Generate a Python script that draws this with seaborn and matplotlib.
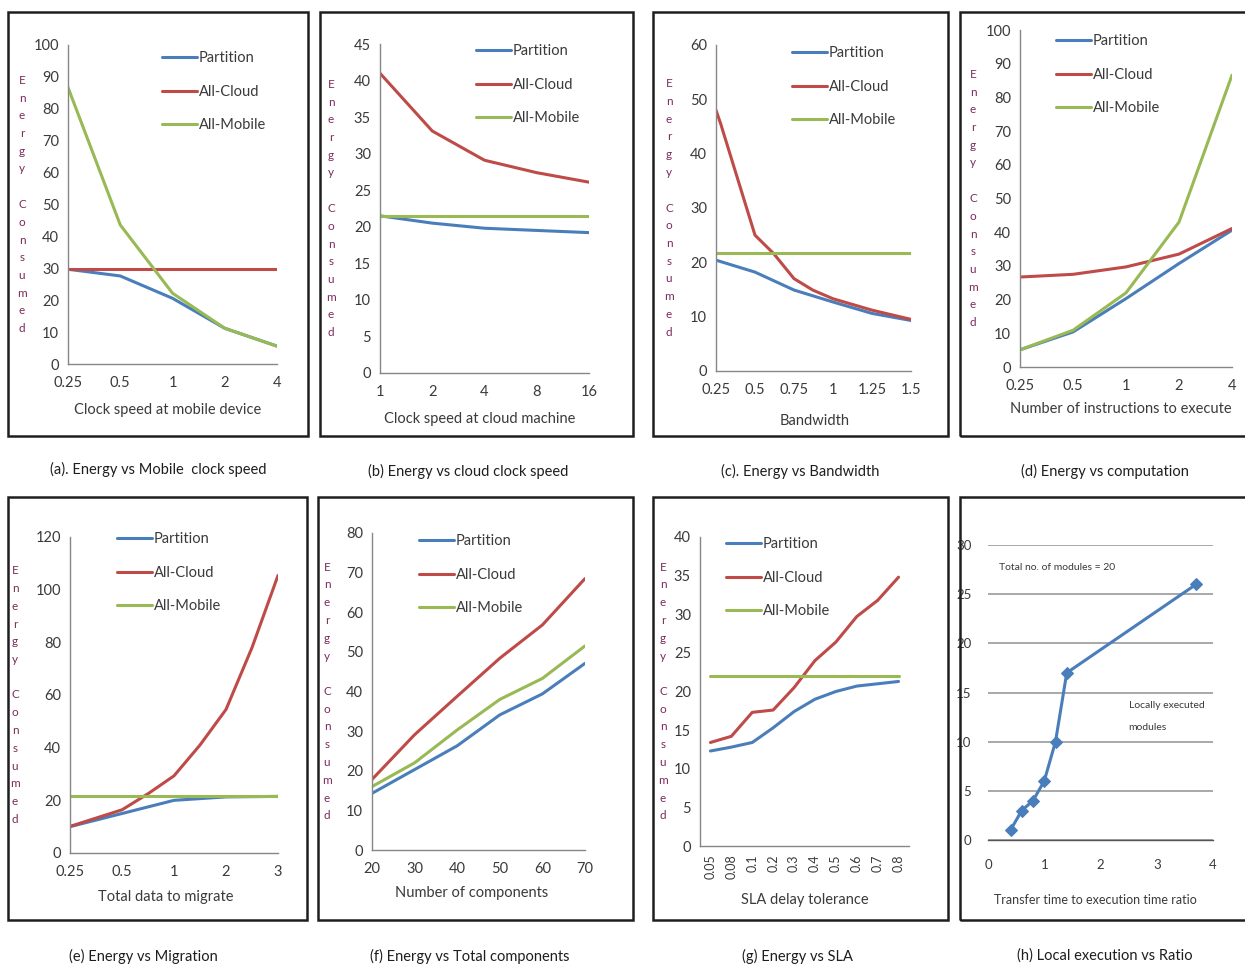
import numpy as np
import matplotlib
matplotlib.use('Agg')
import matplotlib.pyplot as plt
from matplotlib.patches import Rectangle
import seaborn as sns

################################################################################
# data
a_ticks = ['0.25', '0.5', '1', '2', '4']
a_partition = [29.7, 27.6, 20.6, 11.2, 5.6]
a_cloud = [29.7, 29.7, 29.7, 29.7, 29.7]
a_mobile = [86.7, 43.6, 22.2, 11.2, 5.6]

b_ticks = ['1', '2', '4', '8', '16']
b_partition = [21.5, 20.5, 19.8, 19.5, 19.2]
b_cloud = [41.0, 33.1, 29.1, 27.4, 26.1]
b_mobile = [21.5, 21.5, 21.5, 21.5, 21.5]

c_x = [0.25, 0.5, 0.75, 1.0, 1.25, 1.5]
c_partition = [20.4, 18.2, 14.9, 12.7, 10.6, 9.3]
c_cloud_x = [0.25, 0.28, 0.5, 0.62, 0.75, 0.87, 1.0, 1.25, 1.5]
c_cloud = [48.0, 45.5, 25.0, 21.6, 17.0, 14.9, 13.3, 11.2, 9.5]
c_mobile = [21.7, 21.7, 21.7, 21.7, 21.7, 21.7]

d_ticks = ['0.25', '0.5', '1', '2', '4']
d_partition = [5.1, 10.4, 20.3, 30.7, 40.6]
d_cloud = [26.7, 27.5, 29.7, 33.5, 41.1]
d_mobile = [5.1, 10.9, 22.0, 43.0, 86.6]

e_ticks = ['0.25', '0.5', '1', '2', '3']
e_partition = [10.0, 15.0, 20.0, 21.3, 21.5]
e_cloud_pos = [0, 1, 1.5, 2, 2.5, 3, 3.5, 4]
e_cloud = [10.1, 16.4, 22.5, 29.3, 41.0, 54.5, 78.0, 105.4]
e_mobile = [21.5, 21.5, 21.5, 21.5, 21.5]

f_x = [20, 30, 40, 50, 60, 70]
f_partition = [14.3, 20.3, 26.3, 34.1, 39.4, 47.1]
f_cloud = [17.8, 29.1, 38.8, 48.4, 56.8, 68.5]
f_mobile = [16.0, 22.0, 30.3, 38.0, 43.3, 51.5]

g_ticks = ['0.05', '0.08', '0.1', '0.2', '0.3', '0.4', '0.5', '0.6', '0.7', '0.8']
g_partition = [12.3, 12.8, 13.4, 15.3, 17.4, 19.0, 20.0, 20.7, 21.0, 21.3]
g_cloud = [13.4, 14.2, 17.3, 17.6, 20.5, 24.0, 26.4, 29.7, 31.8, 34.8]
g_mobile = [22.0] * 10

h_ratio = [0.4, 0.6, 0.8, 1.0, 1.2, 1.4, 3.7]
h_local = [1, 3, 4, 6, 10, 17, 26]

captions = ['(a). Energy vs Mobile  clock speed', '(b) Energy vs cloud clock speed',
            '(c). Energy vs Bandwidth', '(d) Energy vs computation',
            '(e) Energy vs Migration', '(f) Energy vs Total components',
            '(g) Energy vs SLA', '(h) Local execution vs Ratio']
xlabels = ['Clock speed at mobile device', 'Clock speed at cloud machine', 'Bandwidth',
           'Number of instructions to execute', 'Total data to migrate',
           'Number of components', 'SLA delay tolerance',
           'Transfer time to execution time ratio']

################################################################################
W, H = 1245, 966
BLUE, RED, GREEN = '#4a7ebb', '#be4b48', '#98b954'
AXC = '#868686'
TXT = '#3a3a3a'
LW = 2.2
FS = 10.5

sns.set_style('white')
plt.rcParams['font.family'] = ['Lato', 'DejaVu Sans']

fig = plt.figure(figsize=(W / 100, H / 100), dpi=100)


def fx(px):
    return px / W


def fy(py):
    return 1 - py / H


def make_ax(x0, x1, ytop, ybot):
    ax = fig.add_axes([fx(x0), fy(ybot), fx(x1 - x0), (ybot - ytop) / H])
    sns.despine(ax=ax)
    for s in ('left', 'bottom'):
        ax.spines[s].set_color(AXC)
        ax.spines[s].set_linewidth(1.0)
    ax.tick_params(axis='both', direction='out', length=3.5, width=0.9, color=AXC,
                   labelsize=FS, labelcolor=TXT, pad=3)
    ax.tick_params(axis='x', pad=5)
    return ax


def energy_label(px, ytop, ybot):
    fig.text(fx(px), fy((ytop + ybot) / 2), '\n'.join('Energy Consumed'),
             ha='center', va='center', fontsize=8.5, color='#7a2c5c',
             linespacing=1.75)


def add_legend(ax, px, py):
    ax.legend(loc='upper left', bbox_to_anchor=(fx(px), fy(py)),
              bbox_transform=fig.transFigure, frameon=False, fontsize=FS,
              handlelength=2.4, handletextpad=0.1, labelspacing=1.35,
              borderpad=0, borderaxespad=0, labelcolor=TXT)


def three_lines(ax, xp, xc, xm, part, cloud, mobile):
    sns.lineplot(x=xp, y=part, ax=ax, color=BLUE, linewidth=LW, label='Partition')
    sns.lineplot(x=xc, y=cloud, ax=ax, color=RED, linewidth=LW, label='All-Cloud')
    sns.lineplot(x=xm, y=mobile, ax=ax, color=GREEN, linewidth=LW, label='All-Mobile')


# panel frames
for x0, x1, y0, y1 in [(8, 308, 12, 436), (320, 633, 12, 436), (653, 948, 12, 436),
                       (960, 1260, 12, 436), (8, 307, 497, 920), (318, 633, 497, 920),
                       (653, 948, 497, 920), (960, 1260, 497, 920)]:
    fig.patches.append(Rectangle((fx(x0), fy(y1)), fx(x1 - x0), (y1 - y0) / H,
                                 transform=fig.transFigure, fill=False,
                                 edgecolor='#1e1e1e', linewidth=1.8))

# (a)
ax = make_ax(68, 277, 45, 364)
pos = np.arange(len(a_ticks))
three_lines(ax, pos, pos, pos, a_partition, a_cloud, a_mobile)
ax.set_xlim(0, 4)
ax.set_ylim(0, 100)
ax.set_yticks(range(0, 101, 10))
ax.set_xticks(pos, a_ticks)
add_legend(ax, 162, 51)
energy_label(22, 45, 364)

# (b)
ax = make_ax(380, 589, 44, 373)
pos = np.arange(len(b_ticks))
three_lines(ax, pos, pos, pos, b_partition, b_cloud, b_mobile)
ax.set_xlim(0, 4)
ax.set_ylim(0, 45)
ax.set_yticks(range(0, 46, 5))
ax.set_xticks(pos, b_ticks)
add_legend(ax, 476, 44)
energy_label(331, 44, 373)

# (c)
ax = make_ax(716, 911, 45, 371)
three_lines(ax, c_x, c_cloud_x, c_x, c_partition, c_cloud, c_mobile)
ax.set_xlim(0.25, 1.5)
ax.set_ylim(0, 60)
ax.set_yticks(range(0, 61, 10))
ax.set_xticks(c_x, ['0.25', '0.5', '0.75', '1', '1.25', '1.5'])
add_legend(ax, 792, 46)
energy_label(669, 45, 371)

# (d)
ax = make_ax(1020, 1232, 30, 367)
pos = np.arange(len(d_ticks))
three_lines(ax, pos, pos, pos, d_partition, d_cloud, d_mobile)
ax.set_xlim(0, 4)
ax.set_ylim(0, 100)
ax.set_yticks(range(0, 101, 10))
ax.set_xticks(pos, d_ticks)
add_legend(ax, 1056, 34)
energy_label(973, 30, 367)

# (e)
ax = make_ax(70, 278, 537, 853)
pos = np.arange(len(e_ticks))
three_lines(ax, pos, e_cloud_pos, pos, e_partition, e_cloud, e_mobile)
ax.set_xlim(0, 4)
ax.set_ylim(0, 120)
ax.set_yticks(range(0, 121, 20))
ax.set_xticks(pos, e_ticks)
add_legend(ax, 117, 532)
energy_label(15, 537, 853)

# (f)
ax = make_ax(372, 585, 533, 850)
three_lines(ax, f_x, f_x, f_x, f_partition, f_cloud, f_mobile)
ax.set_xlim(20, 70)
ax.set_ylim(0, 80)
ax.set_yticks(range(0, 81, 10))
ax.set_xticks(f_x)
add_legend(ax, 419, 534)
energy_label(327, 533, 850)

# (g)
ax = make_ax(700, 909, 537, 846)
pos = np.arange(len(g_ticks))
three_lines(ax, pos, pos, pos, g_partition, g_cloud, g_mobile)
ax.set_xlim(-0.5, len(g_ticks) - 0.5)
ax.set_ylim(0, 40)
ax.set_yticks(range(0, 41, 5))
ax.set_xticks(pos, g_ticks, rotation=90, fontsize=9)
ax.tick_params(axis='x', which='major', length=0, pad=6)
ax.set_xticks(np.arange(len(g_ticks) + 1) - 0.5, minor=True)
ax.tick_params(axis='x', which='minor', direction='out', length=3.5, width=0.9, color=AXC)
add_legend(ax, 726, 537)
energy_label(663, 537, 846)

# (h)
ax = make_ax(988, 1213, 545, 840)
sns.lineplot(x=h_ratio, y=h_local, ax=ax, color=BLUE, linewidth=LW, marker='D',
             markersize=6, markeredgecolor=BLUE)
ax.set_xlim(0, 4)
ax.set_ylim(0, 30)
ax.set_yticks(range(0, 31, 5))
ax.set_xticks(range(0, 5))
ax.spines['left'].set_visible(False)
ax.spines['bottom'].set_color('#555555')
ax.tick_params(axis='both', labelsize=9.5)
ax.tick_params(axis='y', length=0, pad=12)
ax.tick_params(axis='x', pad=10)
ax.yaxis.grid(True, color='#999999', linewidth=1.2)
ax.set_axisbelow(True)
ax.text(0.2, 27.7, 'Total no. of modules = 20', fontsize=7.5, color=TXT, va='center')
ax.text(2.5, 13.7, 'Locally executed', fontsize=7.5, color=TXT, va='center')
ax.text(2.5, 11.4, 'modules', fontsize=7.5, color=TXT, va='center')

# x axis titles
for (cx, cy), txt in zip([(168, 410), (480, 419), (815, 421), (1121, 409),
                          (166, 897), (472, 893), (805, 900), (1095, 900)], xlabels):
    size = 9 if txt.startswith('Transfer') else FS
    fig.text(fx(cx), fy(cy), txt, ha='center', va='center', fontsize=size,
             color=TXT)

# captions
for (cx, cy), txt in zip([(158, 469), (468, 471), (800, 471), (1105, 471),
                          (143, 956), (470, 956), (797, 956), (1105, 956)], captions):
    fig.text(fx(cx), fy(cy), txt, ha='center', va='center', fontsize=10.5,
             color='#1e1e1e')

fig.savefig('out.png', dpi=100)
